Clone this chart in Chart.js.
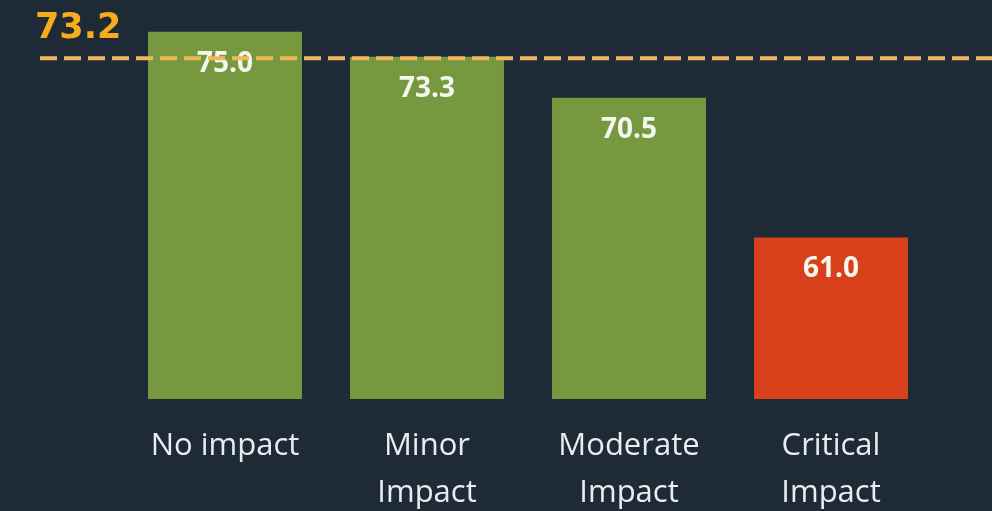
<!DOCTYPE html>
<html>
<head>
<meta charset="utf-8">
<script src="https://cdn.jsdelivr.net/npm/chart.js@4"></script>
<style>
  html, body { margin: 0; padding: 0; background: #1f2a37; }
  #wrap { width: 992px; height: 511px; }
</style>
</head>
<body>
<div id="wrap"><canvas id="impact-chart"></canvas></div>
<script>
// data
const categories = [['No impact'], ['Minor', 'Impact'], ['Moderate', 'Impact'], ['Critical', 'Impact']];
const scores = [75.0, 73.3, 70.5, 61.0];
const barColors = ['#76993f', '#76993f', '#76993f', '#d8401c'];
const avgScore = 73.2;

// bar value labels + average line
const overlayPlugin = {
    id: 'overlay',
    afterDatasetsDraw(chart) {
        const ctx = chart.ctx;
        const meta = chart.getDatasetMeta(0);
        ctx.save();
        ctx.font = 'bold 28px "Open Sans"';
        ctx.fillStyle = '#f4f7ee';
        ctx.textAlign = 'center';
        ctx.textBaseline = 'alphabetic';
        meta.data.forEach((bar, i) => {
            ctx.fillText(scores[i].toFixed(1), bar.x, bar.y + 40);
        });

        const y = chart.scales.y.getPixelForValue(avgScore);
        ctx.strokeStyle = '#f0b85a';
        ctx.lineWidth = 4;
        ctx.setLineDash([17, 7]);
        ctx.beginPath();
        ctx.moveTo(40, y);
        ctx.lineTo(chart.width, y);
        ctx.stroke();
        ctx.setLineDash([]);

        ctx.font = 'bold 35px "DejaVu Sans"';
        ctx.fillStyle = '#f5ad1b';
        ctx.textAlign = 'left';
        ctx.fillText(avgScore.toFixed(1), 35, 38);
        ctx.restore();
    }
};

const ctx = document.getElementById('impact-chart').getContext('2d');
const chart = new Chart(ctx, {
    type: 'bar',
    data: {
        labels: categories,
        datasets: [{ data: scores, backgroundColor: barColors, borderWidth: 0, categoryPercentage: 1, barPercentage: 0.762 }]
    },
    options: {
        responsive: true, maintainAspectRatio: false, animation: false,
        layout: { padding: { left: 124, right: 60, top: 17, bottom: 0 } },
        plugins: { legend: { display: false }, tooltip: { enabled: false } },
        scales: {
            y: { display: false, min: 50, max: 76 },
            x: {
                grid: { display: false, drawTicks: false },
                border: { display: false },
                ticks: { color: '#e9edf0', padding: 24, font: { family: '"Open Sans"', size: 31, lineHeight: 1.5 } },
                afterFit: (scale) => { scale.height = 112; }
            }
        }
    },
    plugins: [overlayPlugin]
});
</script>
</body>
</html>
